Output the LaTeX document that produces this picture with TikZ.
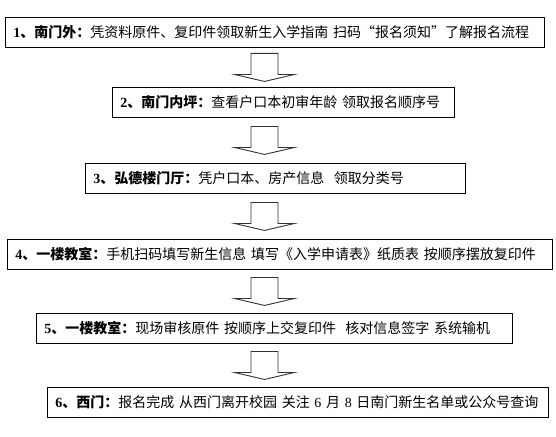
\documentclass[tikz,border=0pt]{standalone}
\usepackage{fontspec}
\usepackage{tikz}
\usetikzlibrary{calc,positioning}
\setmainfont{Liberation Serif}
\newfontfamily\cjk{Noto Sans CJK SC}
\definecolor{boxline}{RGB}{0,0,0}
\definecolor{arrowline}{RGB}{50,50,50}

% label: bold number + place, then the plain steps
\newcommand\flowtext[3]{\mbox{\textbf{#1}{\cjk\bfseries #2}{\cjk #3}}}

\tikzset{
  flowbox/.style={draw=boxline,line width=0.9pt,anchor=north west,
    inner xsep=8pt,inner ysep=0pt,minimum height=30pt,align=left,
    font=\fontsize{14}{16}\selectfont},
  bigarrow/.style={draw=arrowline,line width=0.9pt,fill=white,line join=miter}
}

% hollow block arrow, centred in the gap between two boxes
\newcommand\flowarrow[2]{%
  \coordinate (m) at ($(#1.south)!0.5!(#2.north)$);
  \draw[bigarrow,shift={(m -| axis)}]
    (-13.5,-14) -- (13.5,-14) -- (13.5,7) -- (30,7) -- (0,14)
    -- (-30,7) -- (-13.5,7) -- cycle;}

\begin{document}
\begin{tikzpicture}[x=1pt,y=-1pt]
  \useasboundingbox (0,0) rectangle (556,436);
  \coordinate (axis) at (264.5,0);
  % the six steps
  \node[flowbox,text width=523pt] (nanmen) at (5,17)
    {\flowtext{1}{、南门外：}{凭资料原件、复印件领取新生入学指南 扫码{\cjk “}报名须知{\cjk ”}了解报名流程}};
  \node[flowbox,text width=326pt] (neiping) at (112,87)
    {\flowtext{2}{、南门内坪：}{查看户口本初审年龄 领取报名顺序号}};
  \node[flowbox,text width=364pt] (hongde) at (85,163)
    {\flowtext{3}{、弘德楼门厅：}{凭户口本、房产信息\ \ 领取分类号}};
  \node[flowbox,text width=529pt] (jiaoshi) at (7,239)
    {\flowtext{4}{、一楼教室：}{手机扫码填写新生信息 填写《入学申请表》纸质表 按顺序摆放复印件}};
  \node[flowbox,text width=460pt] (shenhe) at (36,313)
    {\flowtext{5}{、一楼教室：}{现场审核原件 按顺序上交复印件\ \ 核对信息签字 系统输机}};
  \node[flowbox,text width=485pt] (ximen) at (47,387)
    {\textbf{6}{\cjk\bfseries 、西门：}{\cjk 报名完成 从西门离开校园 关注 }6 {\cjk 月 }8 {\cjk 日南门新生名单或公众号查询}};
  % arrows between them
  \flowarrow{nanmen}{neiping}
  \flowarrow{neiping}{hongde}
  \flowarrow{hongde}{jiaoshi}
  \flowarrow{jiaoshi}{shenhe}
  \flowarrow{shenhe}{ximen}
\end{tikzpicture}
\end{document}
